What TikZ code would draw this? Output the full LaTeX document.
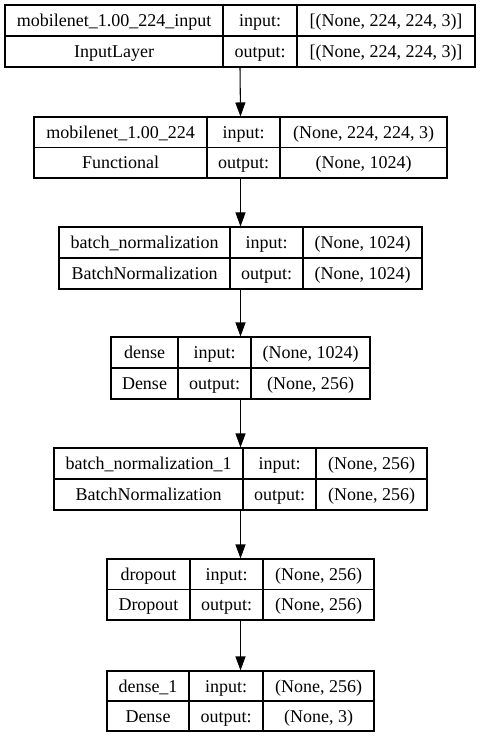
\documentclass[tikz,border=0pt]{standalone}
\usepackage{fontspec}
\setmainfont{Liberation Serif}
\usetikzlibrary{arrows.meta,fit}
\tikzset{
  cell/.style={inner sep=0pt, text height=0.66em, text depth=0pt, font=\fontsize{13.5}{16}\selectfont, yshift=-1.2pt},
  frame/.style={draw, inner sep=0pt, line width=0.8pt},
  rule/.style={line width=0.8pt},
  arr/.style={line width=0.8pt, -{Triangle[length=10.5pt,width=7.5pt]}}
}
\def\kgeom#1/#2/#3/#4/#5/#6\relax{\def\kl{#1}\def\kr{#2}\def\kt{#3}\def\kb{#4}\def\kda{#5}\def\kdb{#6}}
\newcommand\kbox[6]{%
  \kgeom#2\relax
  \pgfmathsetmacro\km{(\kt+\kb)/2}
  \node[frame, fit={(\kl,\kt)(\kr,\kb)}] (#1) {};
  \draw[rule] (\kl,\km) -- (\kr,\km);
  \draw[rule] (\kda,\kt) -- (\kda,\kb);
  \draw[rule] (\kdb,\kt) -- (\kdb,\kb);
  \node[cell] (#1-layer) at ({(\kl+\kda)/2},{(\kt+\km)/2}) {#3};
  \node[cell] (#1-class) at ({(\kl+\kda)/2},{(\km+\kb)/2}) {#4};
  \node[cell] (#1-inl) at ({(\kda+\kdb)/2},{(\kt+\km)/2}) {input:};
  \node[cell] (#1-outl) at ({(\kda+\kdb)/2},{(\km+\kb)/2}) {output:};
  \node[cell] (#1-in) at ({(\kdb+\kr)/2},{(\kt+\km)/2}) {#5};
  \node[cell] (#1-out) at ({(\kdb+\kr)/2},{(\km+\kb)/2}) {#6};
}
\begin{document}
\begin{tikzpicture}[x=0.75pt,y=-0.75pt]
\useasboundingbox (0,0) rectangle (481,737);
\kbox{b1}{5/475/5/67/223/297}{mobilenet\_1.00\_224\_input}{InputLayer}{[(None, 224, 224, 3)]}{[(None, 224, 224, 3)]}
\kbox{b2}{34/447/117/178/207/280}{mobilenet\_1.00\_224}{Functional}{(None, 224, 224, 3)}{(None, 1024)}
\kbox{b3}{59/422/227/289/230/303}{batch\_normalization}{BatchNormalization}{(None, 1024)}{(None, 1024)}
\kbox{b4}{111/370/337/399/178/251}{dense}{Dense}{(None, 1024)}{(None, 256)}
\kbox{b5}{54/427/448/510/243/316}{batch\_normalization\_1}{BatchNormalization}{(None, 256)}{(None, 256)}
\kbox{b6}{107/374/559/620/190/263}{dropout}{Dropout}{(None, 256)}{(None, 256)}
\kbox{b7}{107/374/671/731/189/263}{dense\_1}{Dense}{(None, 256)}{(None, 3)}
\draw[arr] (b1.south) -- (b2.north);
\draw[arr] (b2.south) -- (b3.north);
\draw[arr] (b3.south) -- (b4.north);
\draw[arr] (b4.south) -- (b5.north);
\draw[arr] (b5.south) -- (b6.north);
\draw[arr] (b6.south) -- (b7.north);
\end{tikzpicture}
\end{document}
